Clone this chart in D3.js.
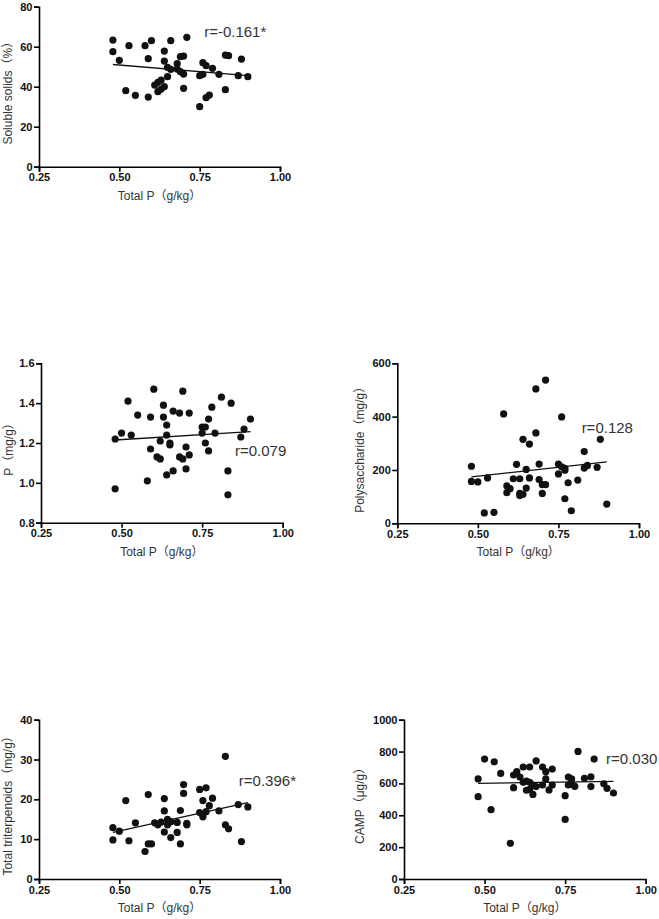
<!DOCTYPE html>
<html><head><meta charset="utf-8">
<script src="https://cdn.jsdelivr.net/npm/d3@7/dist/d3.min.js"></script>
<style>
html,body{margin:0;padding:0;background:#fff;}
svg{display:block;}
</style>
</head><body>
<script>
// ---------- DATA ----------
const xTicks = [0.25, 0.50, 0.75, 1.00];
const xTitle = "Total P（g/kg）";

// Panel 1: Soluble solids
const solubleX = [0.48,0.48,0.50,0.53,0.58,0.60,0.59,0.52,0.55,0.59,0.64,0.64,0.66,0.71,0.69,0.70,0.68,0.65,0.66,0.68,0.69,0.70,0.65,0.63,0.62,0.61,0.64,0.63,0.62,0.70,0.76,0.77,0.75,0.76,0.79,0.81,0.83,0.84,0.83,0.88,0.87,0.90,0.78,0.77,0.75];
const solubleY = [63.3,57.5,53.2,60.5,60.5,63,54,38,35.7,34.8,57.8,52.8,63,64.7,55,55.3,51.5,49.7,48.7,48.8,47.5,46.3,45,43.3,42.2,40.8,40,38.8,37.5,39.2,52,50.5,45.5,46.2,49.2,46.2,55.8,55.5,38.5,53.8,45.5,45,35.8,34.5,30];
const solubleTicks = [0,20,40,60,80];
const solubleFit = [[0.48,51.1],[0.90,45.5]];

// Panel 2: P
const pX = [0.60,0.69,0.52,0.81,0.84,0.63,0.78,0.55,0.59,0.63,0.66,0.68,0.71,0.77,0.64,0.90,0.75,0.76,0.75,0.79,0.88,0.87,0.50,0.53,0.48,0.64,0.62,0.65,0.65,0.70,0.76,0.77,0.59,0.61,0.62,0.68,0.69,0.71,0.70,0.66,0.64,0.83,0.58,0.48,0.83];
const pY = [1.47,1.46,1.41,1.43,1.40,1.39,1.38,1.34,1.33,1.33,1.36,1.35,1.35,1.32,1.29,1.32,1.28,1.28,1.25,1.25,1.27,1.23,1.25,1.24,1.22,1.24,1.21,1.20,1.19,1.18,1.20,1.16,1.17,1.13,1.12,1.13,1.12,1.14,1.07,1.06,1.04,1.06,1.01,0.97,0.94];
const pTicks = [0.8,1.0,1.2,1.4,1.6];
const pFit = [[0.48,1.215],[0.90,1.257]];

// Panel 3: Polysaccharide
const polyX = [0.48,0.48,0.50,0.53,0.52,0.55,0.58,0.59,0.59,0.60,0.61,0.62,0.63,0.63,0.63,0.64,0.64,0.65,0.65,0.66,0.66,0.68,0.68,0.69,0.69,0.70,0.71,0.70,0.71,0.75,0.76,0.75,0.76,0.77,0.77,0.77,0.78,0.79,0.81,0.83,0.83,0.84,0.87,0.88,0.90];
const polyY = [214,157,155,170,39,41,410,140,115,130,167,221,112,167,104,109,315,132,202,297,170,504,339,222,164,145,145,112,537,222,399,185,212,206,199,92,152,47,162,269,207,217,210,315,72];
const polyTicks = [0,200,400,600];
const polyFit = [[0.48,174],[0.90,230]];

// Panel 4: Total triterpenoids
const triX = [0.83,0.70,0.70,0.75,0.77,0.59,0.52,0.64,0.76,0.79,0.78,0.64,0.69,0.75,0.76,0.77,0.76,0.81,0.87,0.90,0.48,0.50,0.55,0.61,0.62,0.63,0.65,0.66,0.65,0.68,0.71,0.71,0.64,0.68,0.66,0.48,0.53,0.59,0.60,0.58,0.69,0.83,0.84,0.88];
const triY = [30.8,23.7,21.5,22.5,22.9,21.2,19.7,20.2,19.7,20.3,18.4,17.1,17.2,16.7,16.1,16.9,15.6,17.1,18.7,18.1,12.9,12.0,14.1,14.1,13.6,14.3,15.0,14.4,13.6,14.2,14.0,13.6,11.8,11.7,10.4,9.8,9.6,8.8,8.8,6.9,8.8,13.6,12.6,9.4];
const triTicks = [0,10,20,30,40];
const triFit = [[0.48,11.7],[0.90,19.2]];

// Panel 5: CAMP
const campX = [0.79,0.50,0.53,0.84,0.66,0.62,0.64,0.68,0.71,0.55,0.59,0.60,0.61,0.69,0.48,0.62,0.63,0.64,0.65,0.66,0.59,0.63,0.64,0.65,0.68,0.69,0.70,0.71,0.76,0.77,0.76,0.77,0.78,0.81,0.83,0.83,0.87,0.88,0.90,0.48,0.75,0.52,0.75,0.58];
const campY = [801,753,736,753,741,703,703,703,690,663,653,674,640,674,628,607,615,607,590,580,573,557,563,531,590,628,559,590,640,628,590,596,582,632,642,580,598,569,540,517,523,435,374,224];
const campTicks = [0,200,400,600,800,1000];
const campFit = [[0.48,600],[0.90,613]];

const yTitles = ["Soluble solids（%）","P（mg/g）","Polysaccharide（mg/g）","Total triterpenoids（mg/g）","CAMP（μg/g）"];
const rLabels = ["r=-0.161*","r=0.079","r=0.128","r=0.396*","r=0.030"];
// label anchor in data coordinates [x, y]
const rLabelAt = [[0.764,65],[0.852,1.135],[0.822,340],[0.872,23.3],[0.877,722]];

// ---------- LAYOUT ----------
const W = 659, H = 919;
const panels = [
  {x: solubleX, y: solubleY, ticks: solubleTicks, fit: solubleFit, left: 39,    right: 280,   top: 6.7,   bottom: 166.7, titleOff: 27, fmt: d3.format("d")},
  {x: pX,       y: pY,       ticks: pTicks,       fit: pFit,       left: 41,    right: 282.7, top: 363.3, bottom: 522.7, titleOff: 28, fmt: d3.format(".1f")},
  {x: polyX,    y: polyY,    ticks: polyTicks,    fit: polyFit,    left: 397.3, right: 639,   top: 363.3, bottom: 523.3, titleOff: 33, fmt: d3.format("d")},
  {x: triX,     y: triY,     ticks: triTicks,     fit: triFit,     left: 39,    right: 280,   top: 719.7, bottom: 879,   titleOff: 27, fmt: d3.format("d")},
  {x: campX,    y: campY,    ticks: campTicks,    fit: campFit,    left: 404,   right: 645.7, top: 719.7, bottom: 879,   titleOff: 40, fmt: d3.format("d")}
];

const FONT = "'Liberation Sans', Arial, 'Noto Sans CJK SC', sans-serif";

const svg = d3.select("body").append("svg").attr("width", W).attr("height", H)
  .style("font-family", FONT);

panels.forEach((p, i) => {
  const yExt = d3.extent(p.ticks);
  const xs = d3.scaleLinear().domain([0.25, 1.00]).range([p.left, p.right]);
  const ys = d3.scaleLinear().domain(yExt).range([p.bottom, p.top]);
  const g = svg.append("g");

  // x axis
  const gx = g.append("g").attr("transform", `translate(0,${p.bottom})`)
    .call(d3.axisBottom(xs).tickValues(xTicks).tickFormat(d3.format(".2f")).tickSizeOuter(0).tickSize(5).tickPadding(2));
  // y axis
  const gy = g.append("g").attr("transform", `translate(${p.left},0)`)
    .call(d3.axisLeft(ys).tickValues(p.ticks).tickFormat(p.fmt).tickSizeOuter(0).tickSize(5).tickPadding(1.5));

  [gx, gy].forEach(a => {
    a.select(".domain").attr("stroke", "#000").attr("stroke-width", 1.6);
    a.selectAll(".tick line").attr("stroke", "#000").attr("stroke-width", 1.6);
    a.selectAll(".tick text").attr("fill", "#111").style("font-size", "11px")
      .style("font-weight", "bold").style("font-family", FONT);
  });

  // fit line
  g.append("line")
    .attr("x1", xs(p.fit[0][0])).attr("y1", ys(p.fit[0][1]))
    .attr("x2", xs(p.fit[1][0])).attr("y2", ys(p.fit[1][1]))
    .attr("stroke", "#111").attr("stroke-width", 1.3);

  // points
  g.selectAll("circle.pt").data(p.x.map((v, k) => [v, p.y[k]])).enter()
    .append("circle").attr("class", "pt")
    .attr("cx", d => xs(d[0])).attr("cy", d => ys(d[1])).attr("r", 3.6)
    .attr("fill", "#111");

  // r label
  g.append("text").attr("x", xs(rLabelAt[i][0])).attr("y", ys(rLabelAt[i][1]))
    .attr("fill", "#333").style("font-size", "15px").text(rLabels[i]);

  // x title
  g.append("text").attr("x", (p.left + p.right) / 2).attr("y", p.bottom + 33)
    .attr("text-anchor", "middle").attr("fill", "#333").style("font-size", "12px").text(xTitle);

  // y title
  const cy = (p.top + p.bottom) / 2 + 3.5;
  g.append("text").attr("transform", `translate(${p.left - p.titleOff},${cy}) rotate(-90)`)
    .attr("text-anchor", "middle").attr("fill", "#333").style("font-size", "12px").text(yTitles[i]);
});
</script>
</body></html>
